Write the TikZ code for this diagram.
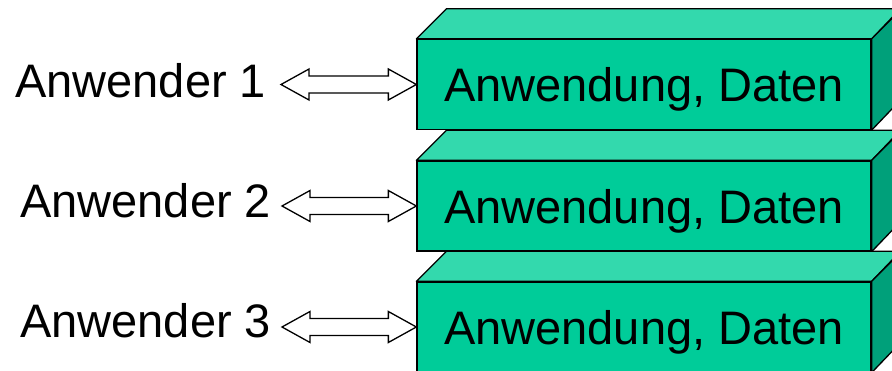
\documentclass[tikz,border=0pt]{standalone}
\usepackage{fontspec}
\setmainfont{Liberation Sans}
\usetikzlibrary{calc}
\definecolor{frontc}{HTML}{00CC99}
\definecolor{topc}{HTML}{33D9AD}
\definecolor{sidec}{HTML}{00A07A}
\tikzset{
  frontbox/.style={draw, line width=1.3pt, fill=frontc, minimum width=454pt, minimum height=90pt,
    inner sep=0pt, text depth=0pt, font=\fontsize{47}{50}\selectfont},
  facepath/.style={draw, line width=1.3pt, line join=round},
  userlabel/.style={inner sep=0pt, anchor=base west, font=\fontsize{47}{50}\selectfont},
  dblarr/.style={draw, fill=white, line width=1.3pt, line join=miter},
}
\newcommand\mydblarrow[2]{%
  \draw[dblarr] let \p1=(#1), \p2=(#2) in
    (\x1,\y2) -- (\x1+28pt,\y2+15.5pt) -- (\x1+28pt,\y2+8.5pt) -- (\x2-28pt,\y2+8.5pt)
    -- (\x2-28pt,\y2+15.5pt) -- (\x2,\y2) -- (\x2-28pt,\y2-15.5pt) -- (\x2-28pt,\y2-8.5pt)
    -- (\x1+28pt,\y2-8.5pt) -- (\x1+28pt,\y2-15.5pt) -- cycle;}
\newcommand\mysolid[1]{%
  \draw[facepath, fill=topc] (#1.north west) -- ++(30,-30) -- ++(454,0) -- (#1.north east) -- cycle;
  \draw[facepath, fill=sidec] (#1.north east) -- ++(30,-30) -- ++(0,90) -- (#1.south east) -- cycle;}
\begin{document}
\begin{tikzpicture}[x=1pt,y=-1pt]
\useasboundingbox (0,0) rectangle (892,371);
% boxes
\node[frontbox] (b1) at (644,84.5) {Anwendung, Daten};
\mysolid{b1}
\node[frontbox] (b2) at (644,206) {Anwendung, Daten};
\mysolid{b2}
\node[frontbox] (b3) at (644,327) {Anwendung, Daten};
\mysolid{b3}
% users
\node[userlabel] (u1) at (15,98) {Anwender 1};
\node[userlabel] (u2) at (20,218) {Anwender 2};
\node[userlabel] (u3) at (20,338) {Anwender 3};
% arrow ends
\coordinate (l1) at (281,84.5);
\coordinate (l2) at (282,206);
\coordinate (l3) at (282,327);
\mydblarrow{l1}{b1.west}
\mydblarrow{l2}{b2.west}
\mydblarrow{l3}{b3.west}
\end{tikzpicture}
\end{document}
